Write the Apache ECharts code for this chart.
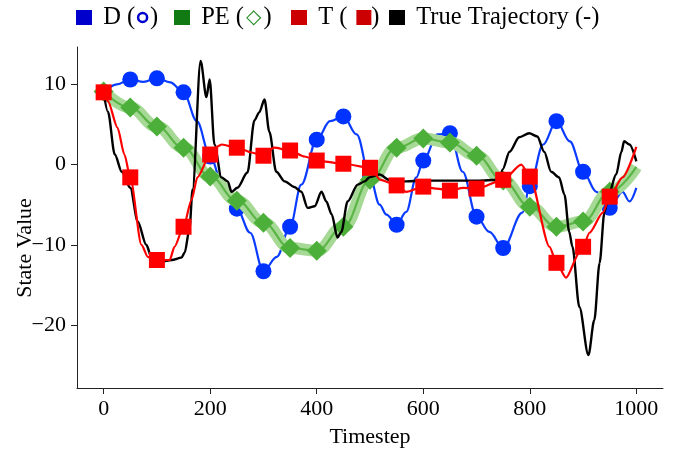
<!DOCTYPE html>
<html><head><meta charset="utf-8">
<script src="https://cdn.jsdelivr.net/npm/echarts@6/dist/echarts.min.js"></script>
<style>html,body{margin:0;padding:0;background:#fff}#c{width:680px;height:451px}</style>
</head><body><div id="c"></div>
<script>
// ---- data ----
const dT = [0,25,50,75,100,125,150,175,200,225,250,275,300,325,350,371,400,425,450,475,500,518,531,550,568,587,600,627,650,674,700,724,750,786,800,825,850,875,900,925,950,974,987,1000];
const dV = [9,10,10.6,10.3,10.75,10.25,9.0,5.4,1.0,-2.9,-5.5,-8.5,-13.3,-11.5,-7.75,-2.5,3.1,5.4,6.0,3.75,-1.6,-5.0,-6.25,-7.5,-5.9,-1.6,0.5,3.75,3.9,-0.9,-6.5,-8.4,-10.4,-6,-2.7,2.5,5.4,2.9,-0.9,-3.4,-5.4,-3.4,-4.6,-2.9];

const peT = [0,50,100,150,200,250,300,350,400,450,500,550,600,650,700,750,800,850,900,950,1000];
const peV = [9.1,7.1,4.75,2.1,-1.5,-4.5,-7.25,-10.4,-10.75,-7.75,-1.9,2.1,3.25,2.75,1.1,-2.0,-5.25,-7.75,-7.1,-3.4,-0.3];

const tT = [0,8,26,39,50,71,83,100,124,133,150,165,176,200,213,222,250,278,300,320,350,377,400,450,500,520,550,568,600,625,650,675,700,750,784,800,837,850,868,893,900,912,937,950,974,1000];
const tV = [9,7.9,4.6,1.25,-1.6,-10,-11.5,-11.9,-11.9,-10.25,-7.75,-4.4,-1.6,1.25,2.25,2.5,2.1,1.5,1.1,2.1,1.75,1.0,0.5,0.1,-0.4,-1.9,-2.6,-3.4,-2.75,-3.0,-3.25,-2.9,-3.0,-1.9,0,-1.5,-10.25,-12.25,-14.1,-11,-10.25,-8.5,-6.0,-4.0,-1.6,2.2];

const trueT = [0,8,21,34,50,64,80,90,108,128,146,152,161,167,182,193,199,208,221,233,240,251,270,283,292,302,311,324,340,358,371,383,396,409,418,428,439,446,458,477,490,499,518,536,568,600,650,700,743,749,762,780,799,814,827,840,855,865,874,880,893,910,921,931,940,949,962,972,977,987,1000];
const trueV = [9,6.6,1.25,-0.9,-2.9,-7.1,-10,-11.6,-12.1,-11.9,-11.6,-11,-8.1,-3.1,12.9,8.4,10.6,2.5,-1.6,-2.1,-3.4,-2.9,-1,5.5,6.5,8.1,4.1,-0.9,-2.1,-2.8,-3.4,-5.4,-5.2,-3.4,-4.6,-6.2,-9.1,-8.4,-4.6,-2.5,-2.1,-1.6,-1.25,-1.9,-2.1,-2.0,-2.0,-2.0,-1.9,-0.6,1.6,3.4,3.9,3.5,1.6,-0.9,-1.6,-3.75,-8.4,-10.25,-17.75,-23.75,-19.4,-12.25,-6,-3.5,-1.25,1.6,2.9,2.5,0.4];

const xTicks = [0,200,400,600,800,1000];
const yTicks = [-20,-10,0,10];

const zip = (a,b) => a.map((x,i)=>[x,b[i]]);
const FONT = 'Liberation Serif';
const mk = (shape) => (v) => (v[0] % 50 === 0 && v[0] < 1000 ? shape : 'none');

const legendCommon = {
  icon: 'rect', itemWidth: 16, itemHeight: 15, top: 5, selectedMode: false,
  padding: 0,
  textStyle: {
    fontFamily: FONT, fontSize: 24.5, color: '#000',
    rich: {
      c: {width: 9, height: 9, borderColor: '#0000cc', borderWidth: 2.5, borderRadius: 7},
      cs: {width: 3, fontSize: 4},
      d: {fontFamily: 'DejaVu Sans', fontSize: 20, fontWeight: 'bold', color: '#1f8a1f', padding: [0, 2, 0, 2]},
      s: {width: 15, height: 15, backgroundColor: '#cc0000', fontSize: 4},
      ss: {width: 9, fontSize: 4}
    }
  },
  formatter: function(name){
    if (name === 'D') return ' D ({cs| }{c| }{cs| })';
    if (name === 'PE') return ' PE ({d|◇})';
    if (name === 'T') return ' T ({ss| }{s| })';
    return ' True Trajectory (-)';
  }
};

const chart = echarts.init(document.getElementById('c'), null, {renderer: 'canvas'});
chart.setOption({
  animation: false,
  backgroundColor: '#fff',
  grid: {left: 77, right: 17, top: 47, bottom: 63, containLabel: false, outerBoundsMode: 'none'},
  legend: [
    Object.assign({}, legendCommon, {left: 76, data: [{name: 'D', itemStyle: {color: '#0000cc'}}]}),
    Object.assign({}, legendCommon, {left: 174, data: [{name: 'PE', itemStyle: {color: '#127a12'}}]}),
    Object.assign({}, legendCommon, {left: 291, data: [{name: 'T', itemStyle: {color: '#cc0000'}}]}),
    Object.assign({}, legendCommon, {left: 389, data: [{name: 'True Trajectory', itemStyle: {color: '#000'}}]})
  ],
  xAxis: {
    type: 'value', min: -50, max: 1050,
    name: 'Timestep', nameLocation: 'middle', nameGap: 38,
    nameTextStyle: {fontFamily: FONT, fontSize: 22, color: '#000'},
    axisLine: {show: true, onZero: false, lineStyle: {color: '#222', width: 1}},
    axisTick: {show: true, length: 6, customValues: xTicks, lineStyle: {color: '#222'}},
    axisLabel: {customValues: xTicks, margin: 10, fontFamily: FONT, fontSize: 22, color: '#000',
      formatter: v => String(v)},
    splitLine: {show: false}
  },
  yAxis: {
    type: 'value', min: -27.85, max: 14.65,
    axisLine: {show: true, onZero: false, lineStyle: {color: '#222', width: 1}},
    axisTick: {show: true, length: 6, customValues: yTicks, lineStyle: {color: '#222'}},
    axisLabel: {customValues: yTicks, margin: 11, fontFamily: FONT, fontSize: 22, color: '#000',
      formatter: v => (v < 0 ? '\u2212' + Math.abs(v) : String(v))},
    splitLine: {show: false}
  },
  graphic: [{
    type: 'text', x: 25, y: 248, rotation: Math.PI / 2,
    style: {text: 'State Value', font: '22px "Liberation Serif"', fill: '#000', align: 'center', verticalAlign: 'middle'}
  }],
  series: [
    {
      name: 'D', type: 'line', data: zip(dT, dV), z: 2,
      smooth: 0.35, smoothMonotone: 'x',
      symbol: mk('circle'), symbolSize: 16, showAllSymbol: true,
      lineStyle: {color: '#0a3cff', width: 2.2}, itemStyle: {color: '#0033ff'}
    },
    {
      name: 'PE band', type: 'line', data: zip(peT, peV), z: 3, silent: true,
      smooth: 0.4, smoothMonotone: 'x', symbol: 'none',
      lineStyle: {color: '#a6d995', width: 12}
    },
    {
      name: 'PE', type: 'line', data: zip(peT, peV), z: 4,
      smooth: 0.4, smoothMonotone: 'x',
      symbol: mk('diamond'), symbolSize: 20, showAllSymbol: true,
      lineStyle: {color: '#5ab546', width: 2.2}, itemStyle: {color: '#4caf3a'}
    },
    {
      name: 'True Trajectory', type: 'line', data: zip(trueT, trueV), z: 5,
      smooth: 0.3, smoothMonotone: 'x', symbol: 'none',
      lineStyle: {color: '#000', width: 2.4}
    },
    {
      name: 'T', type: 'line', data: zip(tT, tV), z: 6,
      smooth: 0.25, smoothMonotone: 'x',
      symbol: mk('rect'), symbolSize: 16, showAllSymbol: true,
      lineStyle: {color: '#ff0000', width: 2.2}, itemStyle: {color: '#ff0000'}
    }
  ]
});
</script>
</body></html>
